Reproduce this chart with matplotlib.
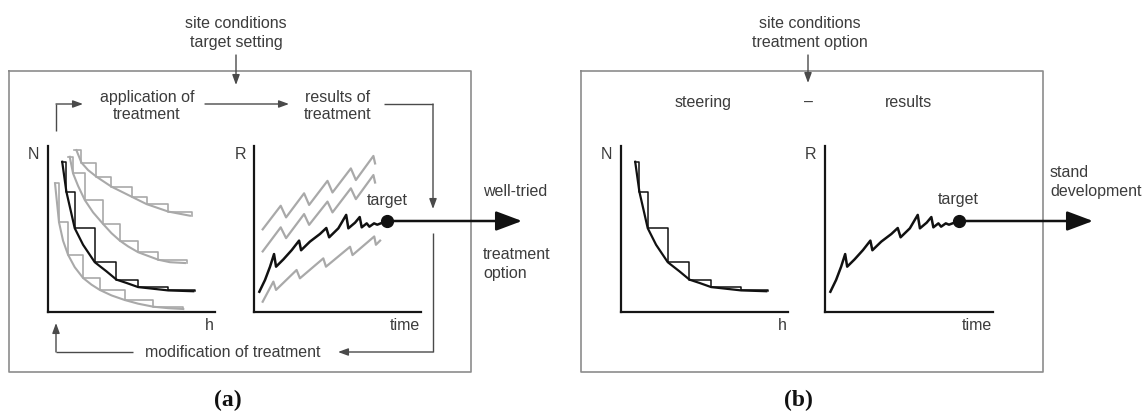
import matplotlib
matplotlib.use("Agg")
import matplotlib.pyplot as plt

# ---------------- data (schematic curves) ----------------
# N over h : guide curve + thinning staircase (black), alternatives (grey)
black_h = [0.85, 1.1, 1.6, 2.1, 2.8, 3.5, 4.1, 4.7, 5.4, 6.3, 7.2, 8.7]
black_N = [9.05, 7.25, 5.05, 4.05, 3.0, 2.45, 1.95, 1.75, 1.5, 1.4, 1.3, 1.25]
black_step_h = [0.85, 1.1, 1.6, 2.8, 4.1, 5.4, 7.2, 8.8]
black_step_N = [9.05, 7.25, 5.05, 3.0, 1.95, 1.5, 1.3, 1.25]

grey1_h = [1.7, 2.0, 2.4, 2.9, 3.8, 5.0, 5.9, 7.2, 8.5]
grey1_N = [9.75, 9.0, 8.55, 8.15, 7.55, 6.95, 6.5, 6.05, 5.8]
grey1_step_h = [1.55, 2.0, 2.9, 3.8, 5.0, 5.9, 7.2, 8.6]
grey1_step_N = [9.75, 9.0, 8.15, 7.55, 6.95, 6.5, 6.05, 5.8]

grey2_h = [1.3, 1.5, 1.8, 2.2, 2.7, 3.3, 3.8, 4.3, 4.8, 5.4, 6.6, 7.3, 8.2]
grey2_N = [9.35, 8.35, 7.6, 6.75, 6.0, 5.3, 4.75, 4.3, 3.95, 3.6, 3.15, 3.0, 2.95]
grey2_step_h = [1.2, 1.5, 2.2, 3.3, 4.3, 5.4, 6.6, 8.3]
grey2_step_N = [9.35, 8.35, 6.75, 5.3, 4.3, 3.6, 3.15, 2.95]

grey3_h = [0.42, 0.66, 0.9, 1.2, 1.6, 2.1, 2.6, 3.1, 3.8, 4.6, 5.4, 6.3, 7.2, 8.1]
grey3_N = [7.75, 5.4, 4.3, 3.45, 2.7, 2.05, 1.65, 1.33, 1.0, 0.72, 0.5, 0.32, 0.23, 0.18]
grey3_step_h = [0.4, 0.66, 1.2, 2.1, 3.1, 4.6, 6.3, 8.1]
grey3_step_N = [7.75, 5.4, 3.45, 2.05, 1.33, 0.72, 0.32, 0.18]

# R over time
R_t = [0.32, 0.66, 0.96, 1.2, 1.32, 1.76, 2.26, 2.7, 2.82, 3.35, 3.95, 4.33, 4.5, 5.05,
       5.52, 5.65, 6.05, 6.33, 6.45, 6.75, 6.91, 7.19, 7.38, 7.96]
R_v = [1.22, 1.93, 2.73, 3.49, 2.73, 3.17, 3.73, 4.3, 3.72, 4.24, 4.70, 5.06, 4.50, 5.04,
       5.85, 5.04, 5.38, 5.72, 5.10, 5.34, 5.14, 5.34, 5.26, 5.48]
target_t = 7.96
target_R = 5.48

Rg1_t = [0.52, 1.6, 1.92, 3.0, 3.3, 4.4, 4.7, 5.8, 6.1, 7.15, 7.25]
Rg1_v = [4.98, 6.4, 5.7, 7.15, 6.45, 7.9, 7.2, 8.65, 7.95, 9.4, 8.95]
Rg2_t = [0.52, 1.6, 1.92, 3.0, 3.3, 4.4, 4.7, 5.8, 6.1, 7.15, 7.25]
Rg2_v = [3.65, 5.1, 4.45, 5.9, 5.25, 6.65, 6.0, 7.45, 6.8, 8.25, 7.8]
Rg3_t = [0.52, 1.16, 1.32, 2.55, 2.75, 4.15, 4.31, 5.75, 5.9, 7.2, 7.3, 7.55]
Rg3_v = [0.62, 1.83, 1.33, 2.53, 2.03, 3.23, 2.73, 3.93, 3.43, 4.55, 4.05, 4.3]

# texts
top_a = ["site conditions", "target setting"]
top_b = ["site conditions", "treatment option"]
flow_a = ["application of", "treatment", "results of", "treatment", "modification of treatment"]
flow_b = ["steering", "\u2013", "results"]
out_a = ["well-tried", "treatment", "option"]
out_b = ["stand", "development"]
axis_labels = ["N", "h", "R", "time"]
panel_labels = ["(a)", "(b)"]

# ---------------- figure ----------------
W, H = 1146, 411
plt.rcParams['font.family'] = ['Liberation Sans', 'DejaVu Sans']
fig = plt.figure(figsize=(W / 100, H / 100), dpi=100)
ax = fig.add_axes([0, 0, 1, 1])
ax.set_xlim(0, W)
ax.set_ylim(H, 0)
ax.axis('off')

TXT = '#3c3c3c'
FLOW = '#4a4a4a'
BOX = '#8c8c8c'
GREY = '#a9a9a9'
FS = 11.5


def txt(x, y, s, ha='center', **kw):
    ax.text(x, y, s, ha=ha, va='center', fontsize=kw.pop('fontsize', FS),
            color=kw.pop('color', TXT), **kw)


def flow(points, lw=1.0, color=FLOW):
    xs = [p[0] for p in points]
    ys = [p[1] for p in points]
    if len(points) > 2:
        ax.plot(xs[:-1], ys[:-1], color=color, lw=lw, solid_capstyle='butt')
    ax.annotate('', xy=points[-1], xytext=points[-2],
                arrowprops=dict(arrowstyle='-|>,head_length=0.6,head_width=0.22',
                                mutation_scale=10, lw=lw, color=color,
                                shrinkA=0, shrinkB=0))


def box(x0, y0, x1, y1):
    ax.plot([x0, x1, x1, x0, x0], [y0, y0, y1, y1, y0], color=BOX, lw=1.2)


def sub_axes(left, top, right, bottom):
    a = fig.add_axes([left / W, 1 - bottom / H, (right - left) / W, (bottom - top) / H])
    a.set_xlim(0, 10)
    a.set_ylim(0, 10)
    a.set_facecolor('none')
    for s in ['top', 'right']:
        a.spines[s].set_visible(False)
    for s in ['left', 'bottom']:
        a.spines[s].set_linewidth(1.6)
        a.spines[s].set_color('#151515')
    a.set_xticks([])
    a.set_yticks([])
    return a


def n_plot(a, greys=True):
    if greys:
        for hh, nn, sh, sn in [(grey1_h, grey1_N, grey1_step_h, grey1_step_N),
                               (grey2_h, grey2_N, grey2_step_h, grey2_step_N),
                               (grey3_h, grey3_N, grey3_step_h, grey3_step_N)]:
            a.plot(hh, nn, color=GREY, lw=1.5, clip_on=False)
            a.step(sh, sn, where='post', color=GREY, lw=1.2, clip_on=False)
    a.plot(black_h, black_N, color='#111111', lw=1.6, clip_on=False)
    a.step(black_step_h, black_step_N, where='post', color='#111111', lw=1.1, clip_on=False)


def r_plot(a, greys=True):
    if greys:
        for tt, vv in [(Rg1_t, Rg1_v), (Rg2_t, Rg2_v), (Rg3_t, Rg3_v)]:
            a.plot(tt, vv, color=GREY, lw=1.6, clip_on=False)
    a.plot(R_t, R_v, color='#111111', lw=1.8, clip_on=False)
    a.plot([target_t], [target_R], 'o', color='#111111', ms=8.5, clip_on=False, zorder=5)


# ---------------- panel (a) ----------------
box(9, 71, 471, 372)
txt(236, 23, top_a[0])
txt(236, 43, top_a[1])
flow([(236, 55), (236, 85)])
txt(147, 97, flow_a[0])
txt(147, 114, flow_a[1])
txt(338, 97, flow_a[2])
txt(338, 114, flow_a[3])
flow([(56, 131), (56, 104), (83, 104)])
flow([(205, 104), (289, 104)])
flow([(384, 104), (433, 104), (433, 209)])
flow([(433, 233), (433, 352), (338, 352)])
txt(233, 352, flow_a[4])
flow([(133, 352), (56, 352), (56, 323)])
txt(33, 154, axis_labels[0])
txt(209, 325, axis_labels[1])
txt(240, 154, axis_labels[2])
txt(405, 325, axis_labels[3])
txt(387, 200, "target")
txt(483, 191, out_a[0], ha='left')
txt(483, 254, out_a[1], ha='left')
txt(483, 273, out_a[2], ha='left')
ax.text(228, 400, panel_labels[0], ha='center', va='center', fontsize=17,
        fontweight='bold', family='Liberation Serif', color='#111111')

na = sub_axes(48, 146, 215, 312)
n_plot(na, greys=True)
ra = sub_axes(254, 146, 421, 312)
r_plot(ra, greys=True)
ax.annotate('', xy=(522, 221), xytext=(387, 221),
            arrowprops=dict(arrowstyle='-|>,head_length=1.6,head_width=0.6',
                            mutation_scale=10, lw=1.8, color='#111111',
                            shrinkA=0, shrinkB=0))

# ---------------- panel (b) ----------------
box(581, 71, 1043, 372)
txt(810, 23, top_b[0])
txt(810, 42, top_b[1])
flow([(808, 55), (808, 83)])
txt(703, 102, flow_b[0])
txt(808, 102, flow_b[1])
txt(908, 102, flow_b[2])
txt(606, 154, axis_labels[0])
txt(782, 325, axis_labels[1])
txt(811, 154, axis_labels[2])
txt(977, 325, axis_labels[3])
txt(958, 199, "target")
txt(1050, 172, out_b[0], ha='left')
txt(1050, 191, out_b[1], ha='left')
ax.text(798, 400, panel_labels[1], ha='center', va='center', fontsize=17,
        fontweight='bold', family='Liberation Serif', color='#111111')

nb = sub_axes(621, 146, 788, 312)
n_plot(nb, greys=False)
rb = sub_axes(825, 146, 993, 312)
r_plot(rb, greys=False)
ax.annotate('', xy=(1093, 221), xytext=(958, 221),
            arrowprops=dict(arrowstyle='-|>,head_length=1.6,head_width=0.6',
                            mutation_scale=10, lw=1.8, color='#111111',
                            shrinkA=0, shrinkB=0))

fig.savefig('out.png', dpi=100)
